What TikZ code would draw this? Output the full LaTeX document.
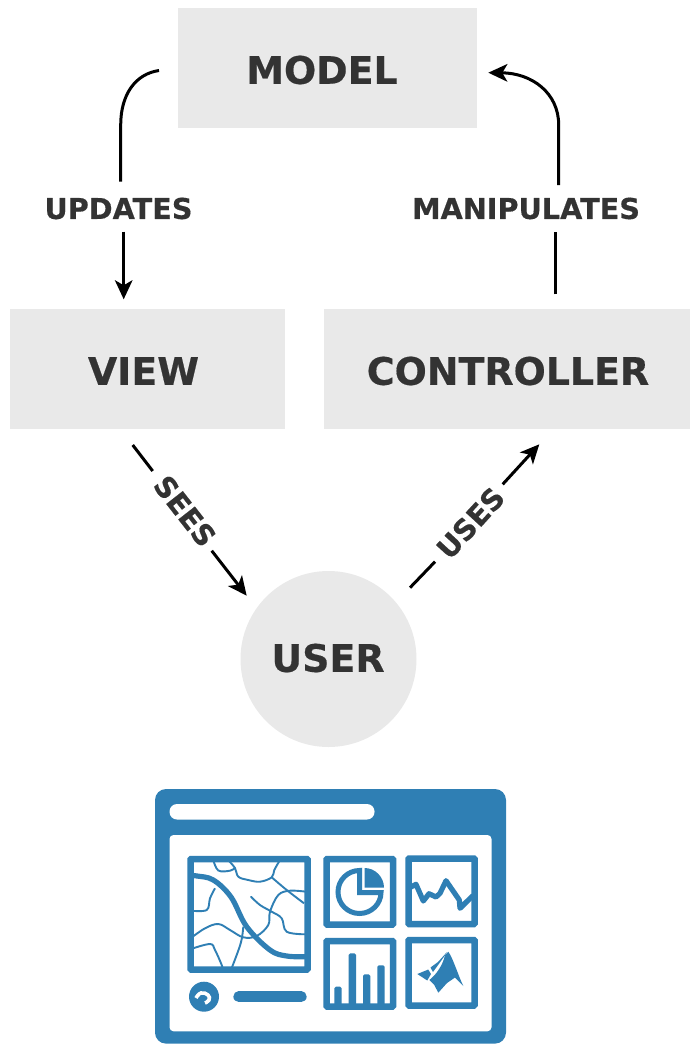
\documentclass[tikz,border=0pt]{standalone}
\usepackage{fontspec}
\setmainfont[BoldFeatures={FakeBold=0.4}]{DejaVu Sans}
\usetikzlibrary{arrows.meta}
\definecolor{boxgray}{HTML}{E9E9E9}
\definecolor{txtgray}{HTML}{333333}
\definecolor{dashblue}{HTML}{2F7FB4}
\tikzset{
  big/.style={font=\fontsize{37.9}{40}\selectfont\bfseries,text=txtgray,inner sep=0pt},
  lab/.style={font=\fontsize{28.7}{30}\selectfont\bfseries,text=txtgray,inner sep=0pt},
  conn/.style={line width=3pt,black},
  tip/.style={-{Stealth[length=19pt,width=17.5pt,inset=5pt]}},
  pane/.style={draw=dashblue,line width=6.5pt,fill=white,rounded corners=0.8pt},
  river/.style={draw=dashblue,line width=1.9pt},
}
\begin{document}
\begin{tikzpicture}[x=1pt,y=-1pt]
\useasboundingbox (0,0) rectangle (690,1044);
% main blocks
\node[fill=boxgray,minimum width=299pt,minimum height=120pt,inner sep=0pt] (modelbox) at (327.5,68) {};
\node[big] (model) at (322,70) {MODEL};
\node[fill=boxgray,minimum width=275pt,minimum height=120pt,inner sep=0pt] (viewbox) at (147.5,368.5) {};
\node[big] (view) at (143.5,371) {VIEW};
\node[fill=boxgray,minimum width=366pt,minimum height=120pt,inner sep=0pt] (ctrlbox) at (507,368.5) {};
\node[big] (ctrl) at (508,371) {CONTROLLER};
\node[circle,fill=boxgray,minimum size=176pt,inner sep=0pt] (userbox) at (328.5,659) {};
\node[big] (user) at (328,658) {USER};
% labels
\node[lab] (updates) at (118.5,208.5) {UPDATES};
\node[lab] (manip) at (526,208.5) {MANIPULATES};
\node[lab,rotate=-52] (sees) at (185,511) {SEES};
\node[lab,rotate=47.5] (uses) at (470.5,523) {USES};
% free ends
\coordinate (a1) at (159,70.5);
\coordinate (a2) at (120.7,125);
\coordinate (a3) at (120.7,181.7);
\coordinate (a4) at (123.7,231.7);
\coordinate (a5) at (123.7,299.3);
\coordinate (b1) at (555.7,294.3);
\coordinate (b2) at (555.7,231.7);
\coordinate (b3) at (558.7,185);
\coordinate (b4) at (558.7,125);
\coordinate (b5) at (488.3,72.7);
\coordinate (c1) at (132.7,445);
\coordinate (c2) at (152.7,471);
\coordinate (c3) at (211.7,550.7);
\coordinate (c4) at (246.7,595.7);
\coordinate (d1) at (410,587.7);
\coordinate (d2) at (435,561.7);
\coordinate (d3) at (502.7,484.3);
\coordinate (d4) at (539.3,444.3);
% connectors
\draw[conn] (a1) .. controls (135,74) and (120.7,95) .. (a2) -- (a3);
\draw[conn,tip] (a4) -- (a5);
\draw[conn] (b1) -- (b2);
\draw[conn,tip] (b3) -- (b4) .. controls (558.7,93) and (532,73) .. (b5);
\draw[conn] (c1) -- (c2);
\draw[conn,tip] (c3) -- (c4);
\draw[conn] (d1) -- (d2);
\draw[conn,tip] (d3) -- (d4);
% dashboard frame
\fill[dashblue,rounded corners=11pt] (155,789) rectangle (506,1043.6);
\fill[white,rounded corners=7.5pt] (169.5,804) rectangle (374.5,819.5);
\fill[white,rounded corners=4pt] (169.5,835) rectangle (491.5,1031.3);
% map pane
\draw[pane] (190.5,859) rectangle (307.5,969.5);
\begin{scope}
\clip (190.5,859) rectangle (307.5,969.5);
\draw[river] plot[smooth,tension=.6] coordinates {(213.3,860) (218.3,870.5) (230,870.7) (235,868)};
\draw[river] plot[smooth,tension=.6] coordinates {(228,860) (235,868) (238.3,876.7) (248.3,880) (260,881.7) (271.7,877.3) (274.3,870) (280,860)};
\draw[river] plot[smooth,tension=.6] coordinates {(271.7,877.3) (286.7,890) (304,903.3)};
\draw[river] plot[smooth,tension=.6] coordinates {(306,891.7) (290,890.7) (278.3,895) (270,911.7) (268.3,925) (256.7,936) (243.3,937.3) (230,930) (218.3,924) (205,928.3) (191,938)};
\draw[river,line cap=round] plot[smooth,tension=.6] coordinates {(251,896.7) (260,905) (271.7,911.7) (281.7,918.3) (286.7,931.7) (306,934.3)};
\draw[river] plot[smooth,tension=.6] coordinates {(215,888.3) (210,898.3) (206.7,910) (191,910.7)};
\draw[river] plot[smooth,tension=.6] coordinates {(191,949) (210,944) (215,950) (221.7,965) (222.5,969)};
\draw[river] plot[smooth,tension=.6] coordinates {(243.3,926.7) (240.7,943.3) (231.7,968)};
\draw[dashblue,line width=5.2pt] plot[smooth,tension=.6] coordinates {(190,875.5) (197,876) (213.3,880) (231,897) (246.7,926.7) (270,950) (286.7,956) (306,956.7)};
\end{scope}
% knob and slider
\fill[dashblue] (204,996.7) circle (15pt);
\draw[white,line width=3.6pt] plot[smooth,tension=.8] coordinates {(196,998) (201,993) (208,995) (209,1000) (205,1003)};
\fill[dashblue] (203,999) circle (2pt);
\draw[dashblue,line width=10.7pt,line cap=round] (238.7,996.7) -- (301.3,996.7);
% pie pane
\draw[pane] (326.5,859) rectangle (393,924.5);
\draw[dashblue,line width=5pt] (359.5,870.5) .. controls (347.6,870.5) and (338,880.1) .. (338,892)
  .. controls (338,903.9) and (347.6,913.5) .. (359.5,913.5)
  .. controls (371.4,913.5) and (381,903.9) .. (381,892.5) -- (359.5,892.5) -- cycle;
\fill[dashblue] (364.5,868) .. controls (375.2,868) and (384,877) .. (384,887.7) -- (364.5,887.7) -- cycle;
% line chart pane
\draw[pane] (408.5,858.5) rectangle (474.5,924);
\begin{scope}
\clip (408.5,858.5) rectangle (474.5,924);
\draw[dashblue,line width=5.2pt,line join=round] (410,887.5) -- (416,884.3) -- (423.3,901) -- (429,893.7) -- (436,897) -- (440,893.3) -- (446,880.7) -- (459.3,900) -- (460,908.3) -- (473,895.5);
\end{scope}
% bar pane
\draw[pane] (326.5,941) rectangle (393,1006.5);
\fill[dashblue,rounded corners=1.5pt] (334.3,1006) -- (334.3,986.7) -- (341.7,986.7) -- (341.7,1006) -- cycle;
\fill[dashblue,rounded corners=1.5pt] (348.7,1006) -- (348.7,953.3) -- (356,953.3) -- (356,1006) -- cycle;
\fill[dashblue,rounded corners=1.5pt] (363,1006) -- (363,974.3) -- (370.3,974.3) -- (370.3,1006) -- cycle;
\fill[dashblue,rounded corners=1.5pt] (377.3,1006) -- (377.3,965.3) -- (384.7,965.3) -- (384.7,1006) -- cycle;
% membrane pane
\draw[pane] (408.5,940) rectangle (474.5,1005.5);
\fill[dashblue] (448.3,951.7) .. controls (453,958) and (458,975) .. (463.3,986) -- (455,977.5) -- (447,983) -- (438.3,992.7) -- (434.3,985) -- (429.3,980) .. controls (436,975) and (443,965) .. (445,955) -- cycle;
\fill[dashblue] (417.3,974) -- (428.3,969.5) -- (431,974) -- (427.3,980.5) -- cycle;
\fill[dashblue] (430.5,967.5) -- (438,962) -- (447,952) .. controls (442,960) and (438,965) .. (433,972) -- cycle;
\end{tikzpicture}
\end{document}
